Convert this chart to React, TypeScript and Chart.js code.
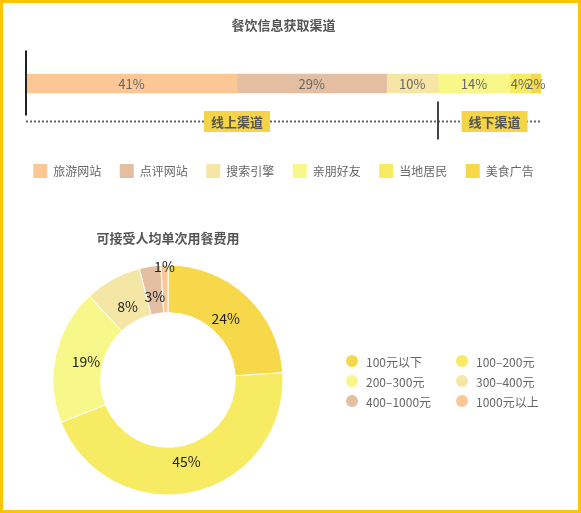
import React, { useEffect, useRef } from 'react';
import { Chart, registerables } from 'chart.js';

Chart.register(...registerables);

const FONT = '"Noto Sans CJK SC", "Noto Sans", sans-serif';

// ---- Top chart data ----
const channelTitle = '餐饮信息获取渠道';
const channelCategories = ['旅游网站', '点评网站', '搜索引擎', '亲朋好友', '当地居民', '美食广告'];
const channelValues = [41, 29, 10, 14, 4, 2];
const channelColors = ['#fdc795', '#e4bea0', '#f6e6a6', '#f8f78a', '#f6eb62', '#f6d84a'];
const channelGroupLabels = ['线上渠道', '线下渠道'];
const channelGroupSizes = [3, 3];

// ---- Doughnut data ----
const spendTitle = '可接受人均单次用餐费用';
const spendCategories = ['100元以下', '100–200元', '200–300元', '300–400元', '400–1000元', '1000元以上'];
const spendValues = [24, 45, 19, 8, 3, 1];
const spendColors = ['#f6d84a', '#f6eb62', '#f8f78a', '#f6e6a6', '#e4bea0', '#fdc795'];

const barLabelPlugin = {
  id: 'barLabels',
  afterDatasetsDraw(chart: any) {
    const ctx = chart.ctx;
    ctx.save();
    ctx.font = `13px ${FONT}`;
    ctx.fillStyle = '#666';
    ctx.textAlign = 'center';
    ctx.textBaseline = 'middle';
    chart.data.datasets.forEach((ds: any, i: number) => {
      const meta = chart.getDatasetMeta(i);
      meta.data.forEach((bar: any, j: number) => {
        const p = bar.getProps(['x', 'y', 'base'], true);
        ctx.fillText(ds.data[j] + '%', (p.x + p.base) / 2, p.y + 1);
      });
    });
    ctx.restore();
  },
};

const groupPlugin = {
  id: 'groups',
  afterDatasetsDraw(chart: any) {
    const ctx = chart.ctx;
    const xs = chart.scales.x;
    const bar = chart.getDatasetMeta(0).data[0];
    const yC = bar.y;
    const lineY = yC + 38;
    const total = channelValues.reduce((a, b) => a + b, 0);

    const bounds: number[][] = [];
    let start = 0;
    let idx = 0;
    channelGroupSizes.forEach((n) => {
      let sum = 0;
      for (let k = 0; k < n; k++) sum += channelValues[idx + k];
      bounds.push([start, start + sum]);
      start += sum;
      idx += n;
    });

    ctx.save();
    // dotted baseline
    ctx.strokeStyle = '#666';
    ctx.lineWidth = 2;
    ctx.setLineDash([2, 2]);
    ctx.beginPath();
    ctx.moveTo(xs.getPixelForValue(0), lineY);
    ctx.lineTo(xs.getPixelForValue(total), lineY);
    ctx.stroke();
    ctx.setLineDash([]);

    // start line
    ctx.strokeStyle = '#222';
    ctx.lineWidth = 2;
    const x0 = xs.getPixelForValue(0);
    ctx.beginPath();
    ctx.moveTo(x0, yC - 33);
    ctx.lineTo(x0, yC + 32);
    ctx.stroke();

    // group divider lines
    ctx.strokeStyle = '#444';
    for (let g = 1; g < bounds.length; g++) {
      const xb = xs.getPixelForValue(bounds[g][0]);
      ctx.beginPath();
      ctx.moveTo(xb, yC + 18);
      ctx.lineTo(xb, yC + 56);
      ctx.stroke();
    }

    // group labels
    ctx.font = `bold 13px ${FONT}`;
    ctx.textAlign = 'center';
    ctx.textBaseline = 'middle';
    bounds.forEach(([a, b], g) => {
      const cx = xs.getPixelForValue((a + b) / 2) + 5;
      const w = 66;
      const h = 21;
      ctx.fillStyle = '#f5d547';
      ctx.fillRect(cx - w / 2, lineY - h / 2, w, h);
      ctx.fillStyle = '#555';
      ctx.fillText(channelGroupLabels[g], cx, lineY + 1);
    });
    ctx.restore();
  },
};

const arcLabelPlugin = {
  id: 'arcLabels',
  afterDatasetsDraw(chart: any) {
    const ctx = chart.ctx;
    const meta = chart.getDatasetMeta(0);
    const data = chart.data.datasets[0].data;
    ctx.save();
    ctx.font = `14px ${FONT}`;
    ctx.fillStyle = '#222';
    ctx.textAlign = 'center';
    ctx.textBaseline = 'middle';
    meta.data.forEach((arc: any, i: number) => {
      const p = arc.getProps(['x', 'y', 'startAngle', 'endAngle', 'innerRadius', 'outerRadius'], true);
      const mid = (p.startAngle + p.endAngle) / 2;
      const v = data[i];
      const r = v < 2 ? p.outerRadius - 2 : (p.innerRadius + p.outerRadius) / 2 - 7;
      ctx.fillText(v + '%', p.x + Math.cos(mid) * r, p.y + Math.sin(mid) * r);
    });
    ctx.restore();
  },
};

const gridLegendPlugin = {
  id: 'gridLegend',
  afterDraw(chart: any) {
    const { ctx, chartArea } = chart;
    const labels = chart.data.labels;
    const colors = chart.data.datasets[0].backgroundColor;
    const cx = (chartArea.left + chartArea.right) / 2;
    const cy = (chartArea.top + chartArea.bottom) / 2;
    const x0 = cx + 184;
    const y0 = cy - 19;
    const colW = 110;
    const rowH = 20;
    ctx.save();
    ctx.font = `12px ${FONT}`;
    ctx.textAlign = 'left';
    ctx.textBaseline = 'middle';
    labels.forEach((lab: string, i: number) => {
      const col = i % 2;
      const row = Math.floor(i / 2);
      const px = x0 + col * colW;
      const py = y0 + row * rowH;
      ctx.fillStyle = colors[i];
      ctx.beginPath();
      ctx.arc(px, py, 6, 0, Math.PI * 2);
      ctx.fill();
      ctx.fillStyle = '#666';
      ctx.fillText(lab, px + 14, py + 1);
    });
    ctx.restore();
  },
};

const hiddenAxis = (size: number, horizontal: boolean) => ({
  display: true,
  grid: { display: false },
  border: { display: false },
  ticks: { display: false },
  afterFit: (s: any) => {
    if (horizontal) s.height = size;
    else s.width = size;
  },
});

export default function App() {
  const barRef = useRef<HTMLCanvasElement>(null);
  const pieRef = useRef<HTMLCanvasElement>(null);

  useEffect(() => {
    Chart.defaults.font.family = FONT;
    const bar = new Chart(barRef.current as HTMLCanvasElement, {
      type: 'bar',
      data: {
        labels: [''],
        datasets: channelCategories.map((c, i) => ({
          label: c,
          data: [channelValues[i]],
          backgroundColor: channelColors[i],
          borderWidth: 0,
          barThickness: 19,
        })),
      },
      options: {
        indexAxis: 'y',
        responsive: false,
        animation: false,
        layout: { padding: { left: 0, right: 14, top: 0, bottom: 12 } },
        scales: {
          x: { stacked: true, min: 0, max: 100, ...hiddenAxis(18.5, true) },
          y: { stacked: true, position: 'left', ...hiddenAxis(26, false) },
          yRight: { type: 'linear', position: 'right', ...hiddenAxis(26, false) },
        },
        plugins: {
          title: {
            display: true,
            text: channelTitle,
            color: '#555',
            font: { size: 13, weight: 'bold', family: FONT },
            padding: { top: 17.2, bottom: 7.2 },
          },
          legend: {
            position: 'bottom',
            labels: {
              boxWidth: 14,
              boxHeight: 14,
              padding: 18.5,
              color: '#666',
              font: { size: 12, family: FONT },
            },
          },
          tooltip: { enabled: false },
        },
      } as any,
      plugins: [barLabelPlugin, groupPlugin],
    });

    const pie = new Chart(pieRef.current as HTMLCanvasElement, {
      type: 'doughnut',
      data: {
        labels: spendCategories,
        datasets: [
          {
            data: spendValues,
            backgroundColor: spendColors,
            borderColor: '#ffffff',
            borderWidth: 1,
            radius: 115,
            cutout: 67,
          } as any,
        ],
      },
      options: {
        responsive: false,
        animation: false,
        layout: { padding: { left: 53, right: 298, top: 0, bottom: 15 } },
        plugins: {
          legend: { display: false },
          title: {
            display: true,
            fullSize: false,
            text: spendTitle,
            color: '#555',
            font: { size: 13, weight: 'bold', family: FONT },
            padding: { top: 15.2, bottom: 19.2 },
          },
          tooltip: { enabled: false },
        },
      } as any,
      plugins: [arcLabelPlugin, gridLegendPlugin],
    });

    return () => {
      bar.destroy();
      pie.destroy();
    };
  }, []);

  return (
    <div style={{ position: 'absolute', left: 0, top: 0, width: 581, height: 513, background: '#fff' }}>
      <canvas
        ref={barRef}
        width={581}
        height={200}
        style={{ position: 'absolute', left: 0, top: 0, width: 581, height: 200 }}
      />
      <canvas
        ref={pieRef}
        width={581}
        height={295}
        style={{ position: 'absolute', left: 0, top: 215, width: 581, height: 295 }}
      />
      <div
        style={{
          position: 'absolute',
          left: 0,
          top: 0,
          width: 581,
          height: 513,
          boxSizing: 'border-box',
          border: '3px solid #fdc400',
          pointerEvents: 'none',
        }}
      />
    </div>
  );
}
